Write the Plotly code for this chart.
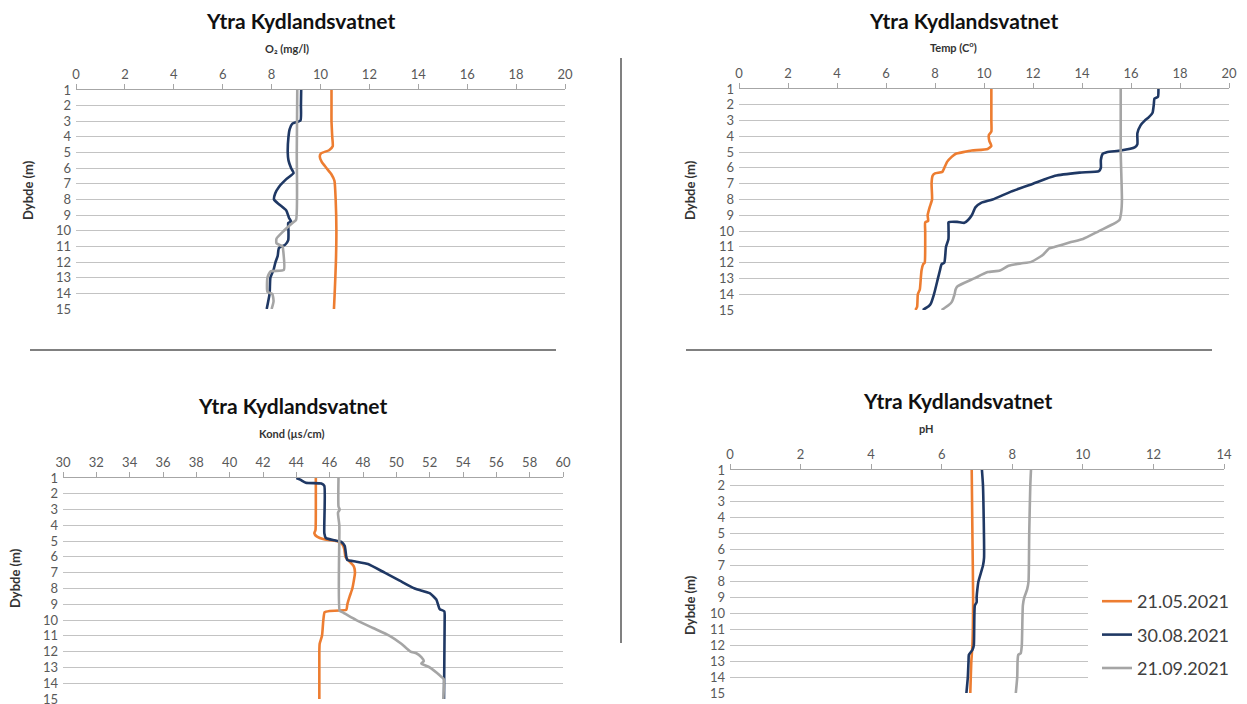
import plotly.graph_objects as go

# ---------------- data ----------------
dates = ["21.05.2021", "30.08.2021", "21.09.2021"]
colors = ["#ED7D31", "#1F3864", "#A5A5A5"]

# O2 (mg/l)
o2_d_may = [1, 2, 3, 4, 4.6, 4.85, 5.05, 5.25, 5.6, 6.0, 6.4, 6.8, 8, 10, 12, 14, 15]
o2_may = [10.45, 10.45, 10.45, 10.48, 10.5, 10.35, 10.02, 9.97, 10.05, 10.25, 10.45, 10.57, 10.62, 10.65, 10.63, 10.58, 10.55]
o2_d_aug = [1, 2, 2.95, 3.15, 3.5, 4, 5, 5.5, 6, 6.3, 6.7, 7.2, 7.6, 8.0, 8.3, 8.7, 9.2, 9.4, 9.5, 10, 10.6, 10.9, 11.1, 11.6, 12, 12.5, 13, 14, 15]
o2_aug = [9.21, 9.2, 9.18, 8.85, 8.74, 8.69, 8.66, 8.69, 8.8, 8.9, 8.6, 8.3, 8.15, 8.1, 8.3, 8.6, 8.72, 8.8, 8.68, 8.69, 8.68, 8.55, 8.3, 8.25, 8.16, 8.08, 7.95, 7.92, 7.8]
o2_d_sep = [1, 5, 9.3, 9.5, 10, 10.5, 10.8, 11.0, 11.2, 12.5, 12.6, 13, 13.9, 14.05, 14.5, 15]
o2_sep = [9.05, 9.03, 9.0, 8.85, 8.5, 8.2, 8.2, 8.45, 8.47, 8.5, 7.95, 7.83, 7.83, 8.03, 8.08, 8.0]

# Temperature (C)
t_d_may = [1, 2, 3, 3.7, 3.9, 4.3, 4.6, 4.8, 4.9, 5.0, 5.1, 5.3, 5.6, 6.0, 6.25, 6.35, 6.5, 7, 8, 8.5, 9, 9.35, 9.45, 10, 11, 12, 12.1, 12.5, 13, 13.7, 14, 14.8, 15]
t_may = [10.3, 10.3, 10.3, 10.3, 10.2, 10.22, 10.3, 10.15, 9.5, 9.15, 8.85, 8.68, 8.5, 8.38, 8.3, 8.0, 7.9, 7.86, 7.88, 7.78, 7.7, 7.72, 7.6, 7.6, 7.6, 7.58, 7.52, 7.45, 7.42, 7.38, 7.3, 7.27, 7.2]
t_d_aug = [1, 1.5, 1.6, 2, 2.5, 2.8, 3, 3.3, 3.8, 4.5, 4.7, 4.9, 5.0, 5.1, 5.5, 6.0, 6.2, 6.3, 6.5, 7, 7.5, 8, 8.2, 8.5, 9, 9.3, 9.48, 9.42, 9.45, 9.6, 10.5, 11, 12, 12.1, 12.5, 13, 14, 14.6, 14.75, 15]
t_aug = [17.12, 17.1, 16.96, 16.93, 16.88, 16.72, 16.56, 16.39, 16.26, 16.26, 16.15, 15.58, 15.01, 14.85, 14.77, 14.77, 14.69, 13.9, 12.9, 12.0, 11.1, 10.35, 9.9, 9.65, 9.5, 9.35, 9.2, 8.9, 8.55, 8.55, 8.55, 8.45, 8.38, 8.27, 8.2, 8.12, 7.96, 7.83, 7.75, 7.5]
t_d_sep = [1, 5, 8, 8.8, 9.3, 9.5, 10, 10.5, 10.7, 11, 11.1, 11.5, 11.95, 12.05, 12.2, 12.5, 12.6, 13, 13.5, 13.7, 14, 14.5, 14.7, 15]
t_sep = [15.58, 15.58, 15.63, 15.6, 15.53, 15.34, 14.69, 14.04, 13.55, 12.9, 12.66, 12.41, 11.93, 11.5, 11.0, 10.65, 10.15, 9.6, 8.92, 8.84, 8.8, 8.68, 8.55, 8.27]

# Conductivity (us/cm)
k_d_may = [1, 2, 3, 4.3, 4.5, 4.7, 4.9, 5.0, 5.2, 5.5, 6.0, 6.3, 6.6, 7, 7.5, 8, 8.5, 9, 9.35, 9.42, 9.5, 10, 11, 11.5, 12, 15]
k_may = [45.17, 45.17, 45.17, 45.15, 45.08, 45.22, 45.73, 46.42, 46.76, 46.88, 46.95, 47.2, 47.45, 47.52, 47.45, 47.36, 47.2, 47.06, 47.0, 46.0, 45.7, 45.62, 45.54, 45.4, 45.38, 45.38]
k_d_aug = [1, 1.1, 1.3, 1.35, 1.5, 4.5, 4.8, 4.95, 5.05, 5.3, 6.0, 6.2, 6.3, 6.45, 7, 7.5, 8, 8.3, 8.7, 9.3, 9.45, 10, 15]
k_aug = [44.0, 44.23, 44.57, 45.5, 45.68, 45.68, 45.77, 46.3, 46.7, 46.9, 47.0, 47.06, 47.6, 48.3, 49.3, 50.2, 51.1, 52.0, 52.4, 52.6, 52.88, 52.9, 52.86]
k_d_sep = [1, 2.8, 3.0, 3.2, 4, 9.42, 9.5, 10, 10.5, 11, 11.5, 12, 12.1, 12.35, 12.6, 12.75, 13, 13.5, 13.75, 14, 15]
k_sep = [46.53, 46.53, 46.6, 46.5, 46.58, 46.6, 46.76, 47.6, 48.6, 49.6, 50.3, 50.85, 51.2, 51.5, 51.65, 51.5, 52.0, 52.6, 52.85, 52.86, 52.82]

# pH
ph_d_may = [1, 5, 9, 12, 13, 15]
ph_may = [6.85, 6.87, 6.89, 6.87, 6.84, 6.81]
ph_d_aug = [1, 2, 6.5, 7, 8, 8.5, 9, 9.3, 9.5, 11, 12, 12.3, 12.6, 13, 14, 15]
ph_aug = [7.14, 7.17, 7.2, 7.17, 7.04, 7.01, 6.99, 6.99, 6.94, 6.92, 6.91, 6.87, 6.77, 6.76, 6.74, 6.7]
ph_d_sep = [1, 2, 5, 8, 8.5, 9, 9.5, 12, 12.5, 12.6, 13, 14, 15]
ph_sep = [8.53, 8.51, 8.48, 8.46, 8.42, 8.34, 8.3, 8.27, 8.24, 8.17, 8.15, 8.14, 8.1]

depth_ticks = list(range(1, 16))
title_text = "Ytra Kydlandsvatnet"
y_title = "Dybde (m)"

# ---------------- layout helpers ----------------
# the page body keeps an 8px default margin: the figure starts at (8, 8) in the window
PAGE_W, PAGE_H, BODY = 1247, 704, 8
W, H = PAGE_W - BODY, PAGE_H - BODY
def px(x):
    return (x - BODY) / W
def py(y):
    return 1 - (y - BODY) / H

FONT = "Lato"
TICKC = "#595959"

panels = [
    dict(data=[(o2_d_may, o2_may), (o2_d_aug, o2_aug), (o2_d_sep, o2_sep)],
         xr=[0, 20], dt=2, xpx=(76, 565), ypx=(90, 309),
         tpos=(300, 21), at="O₂ (mg/l)", apos=(287, 48), ypos=(28, 190)),
    dict(data=[(t_d_may, t_may), (t_d_aug, t_aug), (t_d_sep, t_sep)],
         xr=[0, 20], dt=2, xpx=(739, 1229), ypx=(89, 310),
         tpos=(964, 21), at="Temp (C<sup>o</sup>)", apos=(953, 47), ypos=(690, 190)),
    dict(data=[(k_d_may, k_may), (k_d_aug, k_aug), (k_d_sep, k_sep)],
         xr=[30, 60], dt=2, xpx=(63, 563), ypx=(478, 699),
         tpos=(292, 405), at="Kond (µs/cm)", apos=(292, 433), ypos=(15, 578)),
    dict(data=[(ph_d_may, ph_may), (ph_d_aug, ph_aug), (ph_d_sep, ph_sep)],
         xr=[0, 14], dt=2, xpx=(730, 1224), ypx=(470, 693),
         tpos=(957, 400), at="pH", apos=(926, 428), ypos=(690, 605)),
]

fig = go.Figure()
annotations = []
layout_axes = {}
for i, p in enumerate(panels):
    n = "" if i == 0 else str(i + 1)
    for j, (d, v) in enumerate(p["data"]):
        fig.add_trace(go.Scatter(
            x=v, y=d, mode="lines", name=dates[j],
            line=dict(color=colors[j], width=2.6, shape="spline", smoothing=0.5),
            xaxis="x" + n, yaxis="y" + n,
            showlegend=(i == 3), legendgroup=f"g{j}",
            hoverinfo="skip"))
    layout_axes["xaxis" + n] = dict(
        domain=[px(p["xpx"][0]), px(p["xpx"][1])], range=p["xr"], dtick=p["dt"], tick0=p["xr"][0],
        side="top", anchor="y" + n, showgrid=False, zeroline=False, automargin=False,
        showline=True, linecolor="#a6a6a6", linewidth=1.2,
        ticks="outside", ticklen=5, tickcolor="#a6a6a6", tickwidth=1,
        tickfont=dict(family=FONT, size=13, color=TICKC), fixedrange=True)
    layout_axes["yaxis" + n] = dict(
        domain=[py(p["ypx"][1]), py(p["ypx"][0])], range=[15, 1], tickvals=depth_ticks,
        anchor="x" + n, showgrid=True, gridcolor="#c3c3c3", gridwidth=1.4, automargin=False,
        zeroline=False, showline=False, ticks="", ticklabelstandoff=4,
        ticklabeloverflow="allow",
        tickfont=dict(family=FONT, size=13, color=TICKC), fixedrange=True)
    annotations.append(dict(text=title_text, x=px(p["tpos"][0]), y=py(p["tpos"][1]),
                            xref="paper", yref="paper", showarrow=False,
                            xanchor="center", yanchor="middle",
                            font=dict(family=FONT, size=21, color="#111111", weight="bold")))
    annotations.append(dict(text=p["at"], x=px(p["apos"][0]), y=py(p["apos"][1]),
                            xref="paper", yref="paper", showarrow=False,
                            xanchor="center", yanchor="middle",
                            font=dict(family=FONT, size=11, color="#333333", weight="bold")))
    annotations.append(dict(text=y_title, x=px(p["ypos"][0]), y=py(p["ypos"][1]),
                            xref="paper", yref="paper", showarrow=False, textangle=-90,
                            xanchor="center", yanchor="middle",
                            font=dict(family=FONT, size=13, color="#333333", weight="bold")))

shapes = [
    dict(type="line", xref="paper", yref="paper", x0=px(621), x1=px(621), y0=py(58), y1=py(643),
         line=dict(color="#808080", width=2)),
    dict(type="line", xref="paper", yref="paper", x0=px(30), x1=px(556), y0=py(350), y1=py(350),
         line=dict(color="#808080", width=2)),
    dict(type="line", xref="paper", yref="paper", x0=px(686), x1=px(1212), y0=py(350), y1=py(350),
         line=dict(color="#808080", width=2)),
    dict(type="rect", xref="paper", yref="paper", x0=px(1088), x1=1, y0=0, y1=py(557),
         fillcolor="white", line=dict(width=0), layer="above"),
]

fig.update_layout(
    width=W, height=H, margin=dict(l=0, r=0, t=0, b=0, autoexpand=False),
    paper_bgcolor="white", plot_bgcolor="white",
    font=dict(family=FONT),
    annotations=annotations, shapes=shapes,
    legend=dict(x=px(1097), y=py(583), xanchor="left", yanchor="top",
                bgcolor="rgba(0,0,0,0)", font=dict(family=FONT, size=18, color="#404040"),
                tracegroupgap=7, traceorder="grouped"),
    **layout_axes,
)

fig.write_html("out.html")
